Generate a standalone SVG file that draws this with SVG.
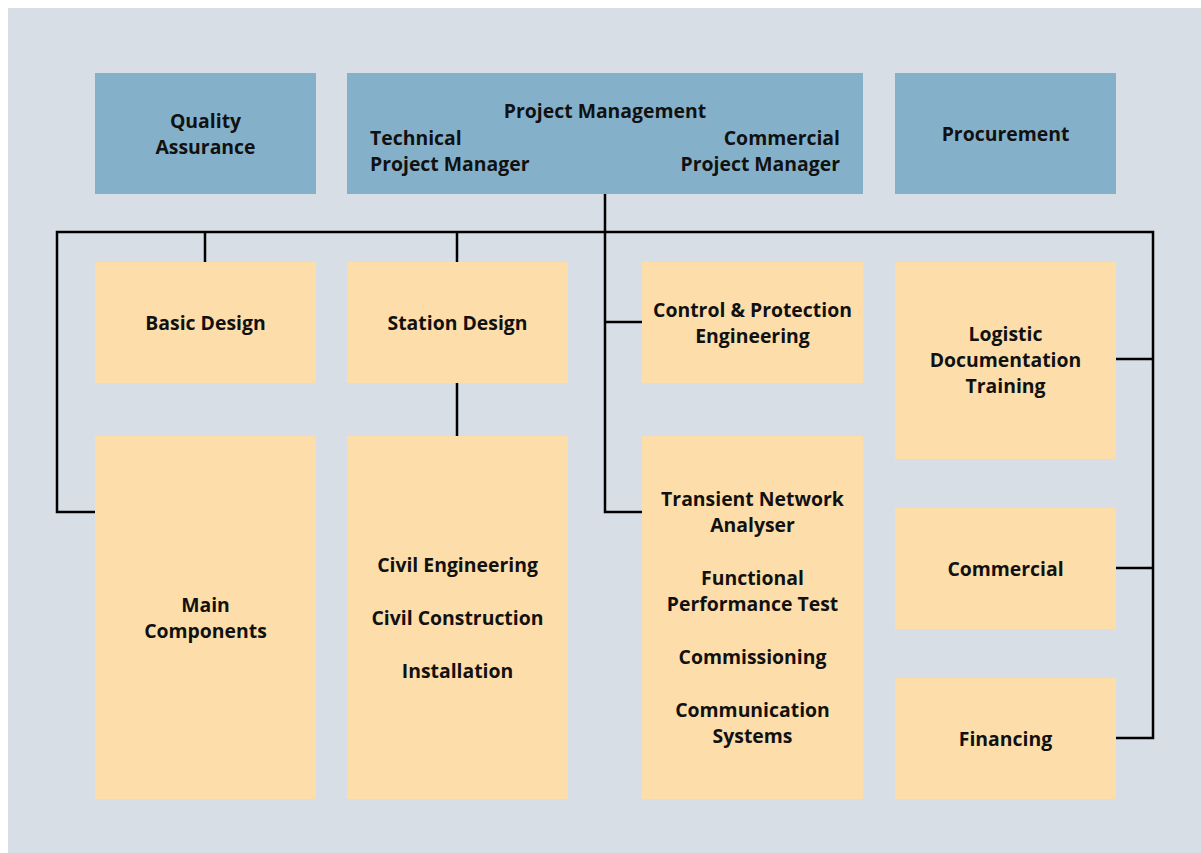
<svg xmlns="http://www.w3.org/2000/svg" width="1201" height="853" viewBox="0 0 1201 853">
<style>
.bg{fill:#D7DEE5}
.blue{fill:#84B1C9}
.org{fill:#FDDEAA}
text{font-family:"Open Sans","Noto Sans","DejaVu Sans",sans-serif;font-weight:bold;font-size:19.4px;fill:#111;text-anchor:middle}
.ln{fill:none;stroke:#000;stroke-width:2.5}
</style>
<rect x="0" y="0" width="1201" height="853" fill="#fff"/>
<rect class="bg" x="8" y="8" width="1193" height="845"/>
<g id="connectors">
<path class="ln" d="M605,194 V512 H642"/>
<path class="ln" d="M605,322 H642"/>
<path class="ln" d="M95,512 H57 V232 H1153 V738 H1116"/>
<path class="ln" d="M1116,359 H1153"/>
<path class="ln" d="M1116,568 H1153"/>
<path class="ln" d="M205,232 V262"/>
<path class="ln" d="M457,232 V262"/>
<path class="ln" d="M457,383 V436"/>
</g>
<g id="quality-assurance">
<rect class="blue" x="95" y="73" width="221" height="121"/>
<text x="205.5" y="128">Quality</text>
<text x="205.5" y="154">Assurance</text>
</g>
<g id="project-management">
<rect class="blue" x="347" y="73" width="516" height="121"/>
<text x="605" y="118">Project Management</text>
<text x="370" y="145" style="text-anchor:start">Technical</text>
<text x="370" y="171" style="text-anchor:start">Project Manager</text>
<text x="840" y="145" style="text-anchor:end">Commercial</text>
<text x="840" y="171" style="text-anchor:end">Project Manager</text>
</g>
<g id="procurement">
<rect class="blue" x="895" y="73" width="221" height="121"/>
<text x="1005.5" y="141">Procurement</text>
</g>
<g id="basic-design">
<rect class="org" x="95" y="262" width="221" height="121"/>
<text x="205.5" y="330">Basic Design</text>
</g>
<g id="station-design">
<rect class="org" x="347" y="262" width="221" height="121"/>
<text x="457.5" y="330">Station Design</text>
</g>
<g id="control-protection">
<rect class="org" x="642" y="262" width="221" height="121"/>
<text x="752.5" y="317">Control &amp; Protection</text>
<text x="752.5" y="343">Engineering</text>
</g>
<g id="logistic">
<rect class="org" x="895" y="262" width="221" height="197"/>
<text x="1005.5" y="341">Logistic</text>
<text x="1005.5" y="367">Documentation</text>
<text x="1005.5" y="393">Training</text>
</g>
<g id="main-components">
<rect class="org" x="95" y="436" width="221" height="363"/>
<text x="205.5" y="612">Main</text>
<text x="205.5" y="638">Components</text>
</g>
<g id="civil">
<rect class="org" x="347" y="436" width="221" height="363"/>
<text x="457.5" y="572">Civil Engineering</text>
<text x="457.5" y="625">Civil Construction</text>
<text x="457.5" y="678">Installation</text>
</g>
<g id="transient">
<rect class="org" x="642" y="436" width="221" height="363"/>
<text x="752.5" y="506">Transient Network</text>
<text x="752.5" y="532">Analyser</text>
<text x="752.5" y="585">Functional</text>
<text x="752.5" y="611">Performance Test</text>
<text x="752.5" y="664">Commissioning</text>
<text x="752.5" y="717">Communication</text>
<text x="752.5" y="743">Systems</text>
</g>
<g id="commercial">
<rect class="org" x="895" y="508" width="221" height="121"/>
<text x="1005.5" y="576">Commercial</text>
</g>
<g id="financing">
<rect class="org" x="895" y="678" width="221" height="121"/>
<text x="1005.5" y="746">Financing</text>
</g>
</svg>
